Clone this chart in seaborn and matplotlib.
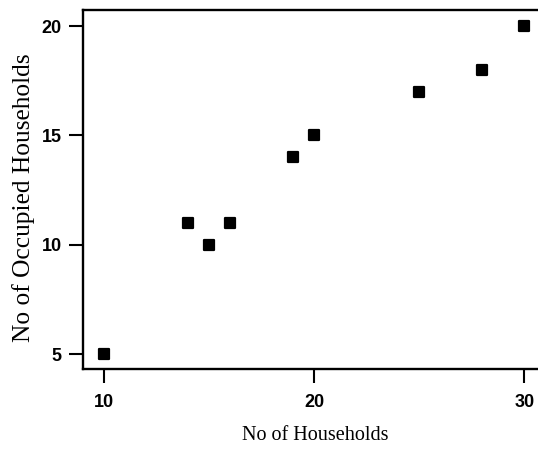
import matplotlib
matplotlib.use("Agg")
import matplotlib.pyplot as plt
import seaborn as sns
import pandas as pd

# data
households = [10, 14, 15, 16, 19, 20, 25, 28, 30]
occupied = [5, 11, 10, 11, 14, 15, 17, 18, 20]
x_ticks = [10, 20, 30]
y_ticks = [5, 10, 15, 20]

df = pd.DataFrame({'households': households, 'occupied': occupied})

sns.set_style('ticks')
plt.rcParams['font.family'] = ['Liberation Sans Narrow', 'Liberation Sans', 'DejaVu Sans']
plt.rcParams['text.color'] = 'black'

fig = plt.figure(figsize=(5.38, 4.49), dpi=100)
ax = fig.add_axes([0.1548, 0.1775, 0.8587, 0.8009])

sns.scatterplot(data=df, x='households', y='occupied', ax=ax, marker='s',
                s=46, color='black', edgecolor='black', linewidth=1.6)
for coll in ax.collections:
    coll.set_joinstyle('round')

ax.set_xlim(9, 31)
ax.set_ylim(4.3, 20.75)
ax.set_xticks(x_ticks)
ax.set_yticks(y_ticks)

for side in ['left', 'bottom', 'top']:
    ax.spines[side].set_linewidth(1.7)
    ax.spines[side].set_color('black')
ax.spines['right'].set_visible(False)

ax.tick_params(axis='both', length=10, width=1.5, color='black',
               labelcolor='black', direction='out')
ax.tick_params(axis='x', pad=8)
ax.tick_params(axis='y', pad=5.5)
for lab in ax.get_xticklabels() + ax.get_yticklabels():
    lab.set_fontsize(13)
    lab.set_fontweight('bold')

serif = ['Liberation Serif', 'DejaVu Serif']
ax.set_xlabel('No of Households', family=serif, fontsize=14.5, color='black')
ax.set_ylabel('No of Occupied Households', family=serif, fontsize=18.3, color='black')
ax.xaxis.set_label_coords(0.5015, -0.158)
ax.yaxis.set_label_coords(-0.1045, 0.478)

fig.savefig('out.png', dpi=100)
